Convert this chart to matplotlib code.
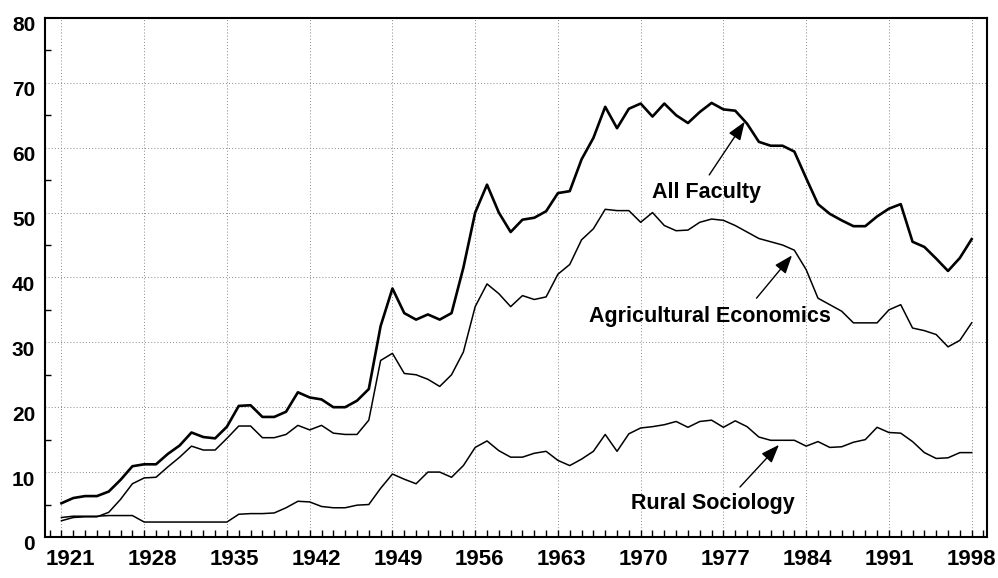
import matplotlib
matplotlib.use("Agg")
import matplotlib.pyplot as plt
from matplotlib.ticker import MultipleLocator
from matplotlib.transforms import ScaledTranslation

# Values, one per year 1921-1998
years = list(range(1921, 1999))

all_faculty = [
    5.2, 6.0, 6.3, 6.3, 7.0, 8.8, 10.9, 11.2, 11.2, 12.8,      # 1921-1930
    14.1, 16.1, 15.4, 15.2, 17.0, 20.2, 20.3, 18.5, 18.5, 19.3,  # 1931-1940
    22.3, 21.5, 21.2, 20.0, 20.0, 21.0, 22.8, 32.5, 38.3, 34.5,  # 1941-1950
    33.5, 34.3, 33.5, 34.5, 41.5, 50.0, 54.3, 50.0, 47.0, 48.9,  # 1951-1960
    49.2, 50.2, 53.0, 53.3, 58.2, 61.5, 66.3, 63.0, 66.0, 66.8,  # 1961-1970
    64.8, 66.8, 65.0, 63.8, 65.5, 66.9, 65.9, 65.7, 63.7, 60.9,  # 1971-1980
    60.3, 60.3, 59.4, 55.3, 51.3, 49.8, 48.8, 47.9, 47.9, 49.4,  # 1981-1990
    50.6, 51.3, 45.5, 44.7, 42.9, 41.0, 43.0, 45.9,              # 1991-1998
]

ag_economics = [
    2.5, 3.0, 3.1, 3.1, 3.8, 5.8, 8.2, 9.1, 9.2, 10.8,
    12.3, 14.0, 13.4, 13.4, 15.2, 17.1, 17.1, 15.3, 15.3, 15.8,
    17.2, 16.5, 17.2, 16.0, 15.8, 15.8, 18.0, 27.2, 28.3, 25.2,
    25.0, 24.3, 23.2, 25.0, 28.5, 35.5, 39.0, 37.5, 35.5, 37.2,
    36.6, 37.0, 40.5, 42.0, 45.8, 47.5, 50.5, 50.3, 50.3, 48.5,
    50.0, 48.0, 47.2, 47.3, 48.5, 49.0, 48.8, 48.0, 47.0, 46.0,
    45.5, 45.0, 44.2, 41.2, 36.8, 35.8, 34.8, 33.0, 33.0, 33.0,
    35.0, 35.8, 32.2, 31.8, 31.2, 29.3, 30.3, 33.0,
]

rural_sociology = [
    3.0, 3.2, 3.2, 3.2, 3.3, 3.3, 3.3, 2.3, 2.3, 2.3,
    2.3, 2.3, 2.3, 2.3, 2.3, 3.5, 3.6, 3.6, 3.7, 4.5,
    5.5, 5.4, 4.7, 4.5, 4.5, 4.9, 5.0, 7.5, 9.7, 8.9,
    8.2, 10.0, 10.0, 9.2, 11.0, 13.8, 14.8, 13.3, 12.3, 12.3,
    12.9, 13.2, 11.8, 11.0, 12.0, 13.2, 15.8, 13.2, 15.9, 16.8,
    17.0, 17.3, 17.8, 16.9, 17.8, 18.0, 16.9, 17.9, 17.0, 15.4,
    14.9, 14.9, 14.9, 14.0, 14.7, 13.8, 13.9, 14.6, 15.0, 16.9,
    16.1, 16.0, 14.7, 13.0, 12.1, 12.2, 13.0, 13.0,
]

year_ticks = list(range(1921, 1999, 7))
value_ticks = list(range(0, 81, 10))

plt.rcParams["font.family"] = ["Liberation Sans", "DejaVu Sans"]
plt.rcParams["font.weight"] = "bold"

fig = plt.figure(figsize=(9.98, 5.78), dpi=100)
ax = fig.add_axes([0.045, 0.071, 0.944, 0.898])

# the three series
ax.plot(years, all_faculty, color="black", lw=1.9)
ax.plot(years, ag_economics, color="black", lw=1.1)
ax.plot(years, rural_sociology, color="black", lw=1.1)

ax.set_xlim(1919.6, 1999.3)
ax.set_ylim(0, 80)
ax.set_xticks(year_ticks)
ax.set_yticks(value_ticks)
ax.xaxis.set_minor_locator(MultipleLocator(1))
ax.yaxis.set_minor_locator(MultipleLocator(5))

ax.grid(True, which="major", color="#8a8a8a", lw=0.7, linestyle=(0, (1, 2.2)))
ax.tick_params(axis="x", which="both", direction="in", length=5, width=1)
ax.tick_params(axis="x", which="major", pad=9, labelsize=16)
ax.tick_params(axis="y", which="major", direction="in", length=0, pad=7, labelsize=15)
ax.tick_params(axis="y", which="minor", direction="in", length=4, width=1)

for spine in ax.spines.values():
    spine.set_linewidth(1.5)

# year labels drift from right of their gridlines (left) to centred (right)
xlabels = ax.get_xticklabels()
for i, lbl in enumerate(xlabels):
    shift = (9 - 9.5 * i / (len(xlabels) - 1)) / 100
    lbl.set_transform(lbl.get_transform() + ScaledTranslation(shift, 0, fig.dpi_scale_trans))
for lbl in ax.get_yticklabels():
    lbl.set_transform(lbl.get_transform() + ScaledTranslation(0, -0.06, fig.dpi_scale_trans))

# labels with arrows
arrow = dict(arrowstyle="-|>,head_length=0.8,head_width=0.3", color="black",
             lw=1.0, mutation_scale=14, shrinkA=0, shrinkB=0)

ax.text(1975.6, 52.3, "All Faculty", ha="center", va="baseline", fontsize=15.5)
ax.annotate("", xy=(1978.8, 64.0), xytext=(1975.8, 55.8), arrowprops=arrow)

ax.text(1975.9, 33.2, "Agricultural Economics", ha="center", va="baseline", fontsize=15.5)
ax.annotate("", xy=(1982.8, 43.4), xytext=(1979.8, 36.8), arrowprops=arrow)

ax.text(1976.1, 4.3, "Rural Sociology", ha="center", va="baseline", fontsize=15.5)
ax.annotate("", xy=(1981.7, 14.2), xytext=(1978.4, 7.7), arrowprops=arrow)

fig.savefig("out.png", dpi=100)
